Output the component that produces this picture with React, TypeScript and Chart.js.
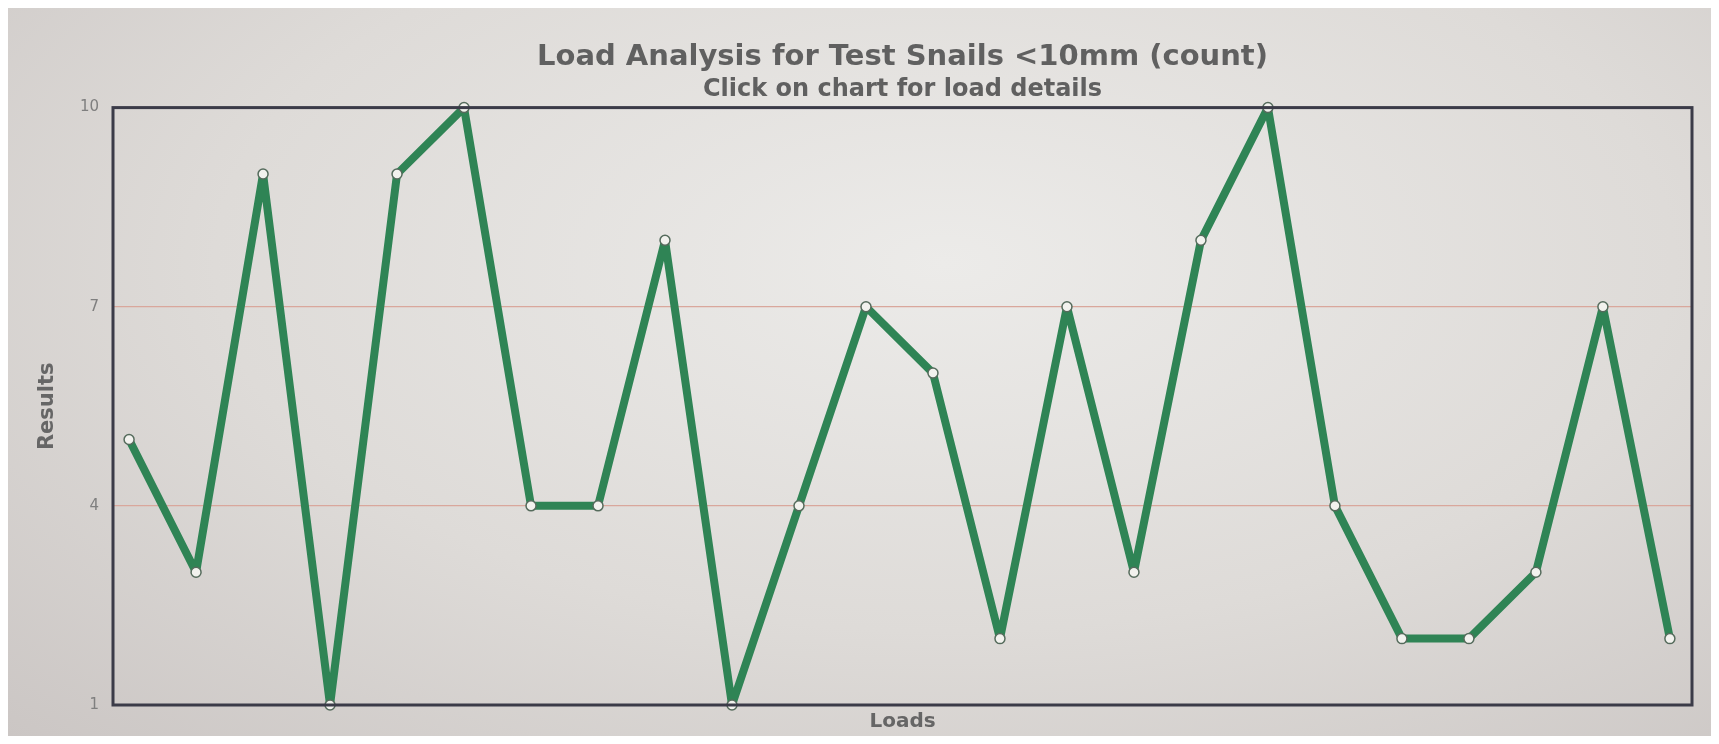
import React, { useEffect, useRef } from "react";
import { Chart, registerables } from "chart.js";

Chart.register(...registerables);

const loadNumbers = [1, 2, 3, 4, 5, 6, 7, 8, 9, 10, 11, 12, 13, 14, 15, 16, 17, 18, 19, 20, 21, 22, 23, 24];
const resultValues = [5, 3, 9, 1, 9, 10, 4, 4, 8, 1, 4, 7, 6, 2, 7, 3, 8, 10, 4, 2, 2, 3, 7, 2];
const yTickValues = [1, 4, 7, 10];

const titleText = "Load Analysis for Test Snails <10mm (count)";
const subtitleText = "Click on chart for load details";
const xTitle = "Loads";
const yTitle = "Results";

const frame = {
  id: "frame",
  afterDatasetsDraw(chart: any) {
    const { ctx, chartArea } = chart;
    ctx.save();
    ctx.strokeStyle = "#3b3b48";
    ctx.lineWidth = 3;
    ctx.strokeRect(chartArea.left, chartArea.top, chartArea.right - chartArea.left, chartArea.bottom - chartArea.top);
    ctx.restore();
  },
};

export default function App() {
  const ref = useRef<HTMLCanvasElement | null>(null);
  useEffect(() => {
    if (!ref.current) return;
    const data = loadNumbers.map((x, i) => ({ x, y: resultValues[i] }));
    const chart = new Chart(ref.current, {
      type: "line",
      data: {
        datasets: [
          {
            data,
            borderColor: "#2f8455",
            borderWidth: 8,
            borderJoinStyle: "round",
            borderCapStyle: "round",
            pointBackgroundColor: "#f2f2ee",
            pointBorderColor: "#556b5c",
            pointBorderWidth: 1.5,
            pointRadius: 5,
            tension: 0,
            clip: false,
          },
        ],
      },
      plugins: [frame],
      options: {
        animation: false,
        responsive: true,
        maintainAspectRatio: false,
        layout: { padding: { left: 0, right: 19, top: 0, bottom: 0 } },
        plugins: {
          legend: { display: false },
          tooltip: { enabled: false },
          title: {
            display: true,
            text: titleText,
            fullSize: false,
            color: "#606060",
            font: { family: "DejaVu Sans", size: 29, weight: "bold" },
            padding: { top: 32, bottom: 1 },
          },
          subtitle: {
            display: true,
            text: subtitleText,
            fullSize: false,
            color: "#606060",
            font: { family: "DejaVu Sans", size: 24, weight: "bold" },
            padding: { top: 0, bottom: 3 },
          },
        },
        scales: {
          x: {
            type: "linear",
            min: 0.76,
            max: 24.33,
            grid: { display: false, drawTicks: false },
            border: { display: false },
            ticks: { display: false },
            title: {
              display: true,
              text: xTitle,
              color: "#666",
              font: { family: "DejaVu Sans", size: 20, weight: "bold" },
              padding: { top: 0, bottom: 2 },
            },
            afterFit: (s: any) => {
              s.height = 31;
            },
          },
          y: {
            type: "linear",
            min: 1,
            max: 10,
            afterBuildTicks: (s: any) => {
              s.ticks = yTickValues.map((v) => ({ value: v }));
            },
            grid: {
              color: (c: any) => (c.tick && (c.tick.value === 4 || c.tick.value === 7) ? "#d9a79c" : "rgba(0,0,0,0)"),
              lineWidth: 1.2,
              drawTicks: false,
            },
            border: { display: false },
            ticks: {
              color: "#7f7f7f",
              padding: 14,
              font: { family: "DejaVu Sans", size: 15 },
            },
            title: {
              display: true,
              text: yTitle,
              color: "#666",
              font: { family: "DejaVu Sans", size: 21, weight: "bold" },
              padding: { top: 27, bottom: 0 },
            },
            afterFit: (s: any) => {
              s.width = 105;
            },
          },
        },
      },
    });
    return () => chart.destroy();
  }, []);
  return (
    <div
      style={{
        width: 1703,
        height: 728,
        background: "radial-gradient(ellipse at 55% 35%, #ecebe9 0%, #dedbd8 55%, #cbc6c4 100%)",
      }}
    >
      <canvas ref={ref} />
    </div>
  );
}
